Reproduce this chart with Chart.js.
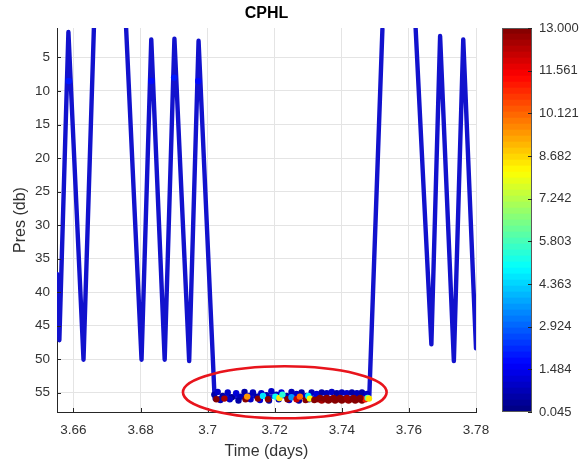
<!DOCTYPE html>
<html lang="en">
<head>
<meta charset="UTF-8">
<title>CPHL</title>
<script src="https://cdn.jsdelivr.net/npm/chart.js@4.4.1/dist/chart.umd.min.js"></script>
<style>
    body { margin: 0; background: #ffffff; }
    #wrap { position: relative; width: 582px; height: 468px; }
    #main { position: absolute; left: 0; top: 0; }
    #cbar { position: absolute; left: 490px; top: 0; }
</style>
</head>
<body>
<div id="wrap">
    <canvas id="main" width="582" height="468"></canvas>
    <canvas id="cbar" width="92" height="468"></canvas>
</div>
<script>
// axis limits and ticks
const xMin = 3.6551, xMax = 3.78;
const yMin = 0.6, yMax = 57.9;
const xTicks = [3.66, 3.68, 3.70, 3.72, 3.74, 3.76, 3.78];
const yTicks = [5, 10, 15, 20, 25, 30, 35, 40, 45, 50, 55];

// colour scale
const cbMin = 0.045, cbMax = 13.0;
const cbTicks = [0.045, 1.484, 2.924, 4.363, 5.803, 7.242, 8.682, 10.121, 11.561, 13.000];

// profiler path (null pressure = gap in record)
const trajTime = [3.6551, 3.6558, 3.6585, 3.6630, 3.6661, 3.6700,
                  3.6757, 3.6803, 3.6832, 3.6872, 3.6901, 3.6945, 3.6973, 3.7021,
                  3.7060, 3.7100, 3.7150, 3.7200, 3.7250, 3.7300, 3.7350, 3.7400, 3.7450, 3.7482,
                  3.7521, 3.7570,
                  3.7620, 3.7667, 3.7693, 3.7734, 3.7762, 3.7800];
const trajPres = [37.3, 47.2, 1.2, 50.1, 0.6, null,
                  0.6, 50.1, 2.3, 50.1, 2.2, 50.3, 2.5, 56.0,
                  55.6, 55.7, 55.5, 55.6, 55.5, 55.7, 55.8, 55.8, 55.8, 55.5,
                  0.8, null,
                  0.6, 47.8, 1.8, 50.3, 2.3, 48.4];

// bottom cluster: time, pressure, CPHL
const clTime = [3.7020, 3.7030, 3.7045, 3.7060, 3.7072, 3.7085, 3.7098, 3.7110, 3.7122, 3.7135,
                3.7148, 3.7160, 3.7175, 3.7190, 3.7205, 3.7220, 3.7235, 3.7250, 3.7265, 3.7280,
                3.7295, 3.7310, 3.7325, 3.7340, 3.7355, 3.7370, 3.7385, 3.7400, 3.7415, 3.7430,
                3.7445, 3.7460, 3.7475,
                3.7038, 3.7066, 3.7092, 3.7128, 3.7156, 3.7183, 3.7212, 3.7243, 3.7272, 3.7302,
                3.7026, 3.7050, 3.7113, 3.7118, 3.7150, 3.7165, 3.7180, 3.7202, 3.7214, 3.7223,
                3.7238, 3.7250, 3.7265, 3.7275, 3.7292, 3.7300, 3.7305, 3.7318, 3.7330, 3.7340,
                3.7350, 3.7360, 3.7370, 3.7380, 3.7390, 3.7400, 3.7410, 3.7420, 3.7430, 3.7440,
                3.7450, 3.7460, 3.7470, 3.7477, 3.7481,
                3.7335, 3.7355, 3.7375, 3.7395, 3.7415, 3.7435, 3.7455,
                3.6586, 3.6832, 3.6900, 3.6972];
const clPres = [55.3, 54.9, 55.5, 55.0, 55.7, 55.1, 55.6, 54.9, 55.5, 55.0,
                55.6, 55.1, 55.4, 54.8, 55.3, 55.0, 55.5, 54.9, 55.2, 55.0,
                55.5, 55.0, 55.2, 55.0, 55.1, 54.9, 55.1, 55.0, 55.1, 55.0,
                55.1, 55.0, 55.2,
                56.1, 56.0, 56.2, 56.0, 56.1, 56.2, 56.0, 56.1, 56.2, 56.0,
                56.0, 55.9, 56.0, 55.6, 55.9, 55.5, 56.0, 55.6, 55.8, 55.3,
                56.0, 55.7, 56.0, 55.6, 56.1, 55.5, 55.9, 56.1, 56.0, 56.2,
                56.0, 56.2, 56.0, 56.2, 56.0, 56.2, 56.0, 56.2, 56.0, 56.2,
                56.0, 56.2, 56.0, 55.8, 55.9,
                55.8, 55.8, 55.8, 55.8, 55.8, 55.8, 55.8,
                8.5, 8.5, 8.0, 8.5];
const clChl = [0.6, 1.0, 0.5, 0.9, 0.4, 1.1, 0.7, 0.5, 1.2, 0.8,
               0.6, 1.0, 0.5, 0.9, 0.7, 1.1, 0.6, 0.8, 1.0, 0.5,
               0.9, 0.7, 1.1, 0.6, 0.8, 1.0, 0.5, 0.7, 0.9, 0.6,
               0.8, 0.5, 0.9,
               0.7, 1.0, 0.6, 0.9, 1.2, 0.5, 0.8, 1.1, 0.6, 0.9,
               13.0, 12.5, 13.0, 9.5, 12.8, 4.5, 13.0, 5.0, 8.5, 5.5,
               13.0, 3.5, 12.0, 10.0, 13.0, 4.8, 8.0, 13.0, 13.0, 12.5,
               13.0, 13.0, 13.0, 12.8, 13.0, 13.0, 13.0, 12.6, 13.0, 13.0,
               13.0, 12.8, 11.0, 6.0, 8.5,
               13.0, 12.8, 13.0, 13.0, 12.7, 13.0, 13.0,
               1.9, 1.8, 1.9, 1.8];

// highlight ellipse (data units)
const ellCenter = [3.7230, 54.96];
const ellRadius = [0.03036, 3.88];

const FONT = "'Liberation Sans', Arial, Helvetica, sans-serif";
const TXT = '#333333';

function clamp(v) { return Math.max(0, Math.min(1, v)); }
function jet(v) {
    let f = (v - cbMin) / (cbMax - cbMin);
    let k = Math.min(63, Math.max(0, Math.floor(f * 64)));
    f = (k + 0.5) / 64;
    const r = clamp(1.5 - Math.abs(4 * f - 3));
    const g = clamp(1.5 - Math.abs(4 * f - 2));
    const b = clamp(1.5 - Math.abs(4 * f - 1));
    return 'rgb(' + Math.round(r * 255) + ',' + Math.round(g * 255) + ',' + Math.round(b * 255) + ')';
}

const trajPoints = trajTime.map((t, i) => ({ x: t, y: trajPres[i] === null ? NaN : trajPres[i] }));
const clPoints = clTime.map((t, i) => ({ x: t, y: clPres[i] }));

// red ellipse + inward tick marks
const extras = {
    id: 'extras',
    afterDraw(chart) {
        const { ctx, chartArea: a, scales: { x, y } } = chart;
        ctx.save();
        ctx.strokeStyle = '#262626';
        ctx.lineWidth = 1;
        xTicks.forEach(v => {
            const px = Math.round(x.getPixelForValue(v)) + 0.5;
            ctx.beginPath(); ctx.moveTo(px, a.bottom); ctx.lineTo(px, a.bottom - 4); ctx.stroke();
        });
        yTicks.forEach(v => {
            const py = Math.round(y.getPixelForValue(v)) + 0.5;
            ctx.beginPath(); ctx.moveTo(a.left, py); ctx.lineTo(a.left + 4, py); ctx.stroke();
        });
        const cx = x.getPixelForValue(ellCenter[0]);
        const cy = y.getPixelForValue(ellCenter[1]);
        const rx = Math.abs(x.getPixelForValue(ellCenter[0] + ellRadius[0]) - cx);
        const ry = Math.abs(y.getPixelForValue(ellCenter[1] + ellRadius[1]) - cy);
        ctx.strokeStyle = '#e8141c';
        ctx.lineWidth = 2.6;
        ctx.beginPath();
        ctx.ellipse(cx, cy, rx, ry, 0, 0, Math.PI * 2);
        ctx.stroke();
        ctx.restore();
    }
};

new Chart(document.getElementById('main'), {
    type: 'scatter',
    data: {
        datasets: [{
            label: 'CPHL',
            data: clPoints,
            order: 0,
            pointRadius: 3.2,
            pointBorderWidth: 0,
            pointBackgroundColor: clChl.map(jet),
            showLine: false
        }, {
            label: 'path',
            data: trajPoints,
            order: 1,
            showLine: true,
            spanGaps: false,
            borderColor: 'rgb(18,18,205)',
            borderWidth: 4.4,
            borderJoinStyle: 'round',
            borderCapStyle: 'round',
            pointRadius: 0,
            tension: 0
        }]
    },
    options: {
        responsive: false,
        animation: false,
        layout: { padding: { left: 0, right: 106, top: 0, bottom: 0 } },
        plugins: {
            legend: { display: false },
            tooltip: { enabled: false },
            title: {
                display: true,
                text: 'CPHL',
                fullSize: false,
                color: '#000000',
                font: { family: FONT, size: 16, weight: 'bold' },
                padding: { top: 4, bottom: 4.8 }
            }
        },
        scales: {
            x: {
                type: 'linear',
                min: xMin,
                max: xMax,
                afterBuildTicks: s => { s.ticks = xTicks.map(v => ({ value: v })); },
                afterFit: s => { s.height = 56; },
                ticks: {
                    callback: v => String(Number(v.toFixed(2))),
                    color: TXT,
                    font: { family: FONT, size: 13.5 },
                    padding: 10,
                    autoSkip: false,
                    maxRotation: 0
                },
                grid: { color: '#e4e4e4', drawTicks: false },
                border: { color: '#262626', width: 1 },
                title: {
                    display: true,
                    text: 'Time (days)',
                    color: TXT,
                    font: { family: FONT, size: 16 },
                    padding: { top: 0, bottom: 7 }
                }
            },
            y: {
                type: 'linear',
                reverse: true,
                min: yMin,
                max: yMax,
                afterBuildTicks: s => { s.ticks = yTicks.map(v => ({ value: v })); },
                afterFit: s => { s.width = 57; },
                ticks: {
                    color: TXT,
                    font: { family: FONT, size: 13.5 },
                    padding: 7,
                    autoSkip: false
                },
                grid: { color: '#e4e4e4', drawTicks: false },
                border: { color: '#262626', width: 1 },
                title: {
                    display: true,
                    text: 'Pres (db)',
                    color: TXT,
                    font: { family: FONT, size: 16 },
                    padding: { top: 11, bottom: 0 }
                }
            }
        }
    },
    plugins: [extras]
});

// colour bar: 64 jet levels as floating bars
const cbLevels = [];
for (let i = 0; i < 64; i++) {
    const lo = cbMin + (cbMax - cbMin) * i / 64;
    const hi = cbMin + (cbMax - cbMin) * (i + 1) / 64;
    cbLevels.push([lo, hi]);
}

const cbFrame = {
    id: 'cbFrame',
    afterDraw(chart) {
        const { ctx, chartArea: a, scales: { y } } = chart;
        ctx.save();
        ctx.strokeStyle = '#5a5a5a';
        ctx.lineWidth = 1;
        ctx.strokeRect(Math.round(a.left) + 0.5, Math.round(a.top) + 0.5, Math.round(a.width) - 1, Math.round(a.height) - 1);
        ctx.strokeStyle = '#262626';
        cbTicks.forEach(v => {
            const py = Math.round(y.getPixelForValue(v)) + 0.5;
            ctx.beginPath(); ctx.moveTo(a.right - 4, py); ctx.lineTo(a.right, py); ctx.stroke();
        });
        ctx.restore();
    }
};

new Chart(document.getElementById('cbar'), {
    type: 'bar',
    data: {
        labels: [''],
        datasets: cbLevels.map(l => ({
            data: [l],
            backgroundColor: jet((l[0] + l[1]) / 2),
            borderWidth: 0,
            grouped: false,
            barPercentage: 1,
            categoryPercentage: 1
        }))
    },
    options: {
        responsive: false,
        animation: false,
        layout: { padding: { left: 12, right: 0, top: 28, bottom: 56 } },
        plugins: { legend: { display: false }, tooltip: { enabled: false } },
        scales: {
            x: { display: false },
            y: {
                position: 'right',
                min: cbMin,
                max: cbMax,
                afterBuildTicks: s => { s.ticks = cbTicks.map(v => ({ value: v })); },
                afterFit: s => { s.width = 50; },
                ticks: {
                    callback: v => v.toFixed(3),
                    color: TXT,
                    font: { family: FONT, size: 13 },
                    padding: 7,
                    autoSkip: false
                },
                grid: { display: false, drawTicks: false },
                border: { display: false }
            }
        }
    },
    plugins: [cbFrame]
});
</script>
</body>
</html>
